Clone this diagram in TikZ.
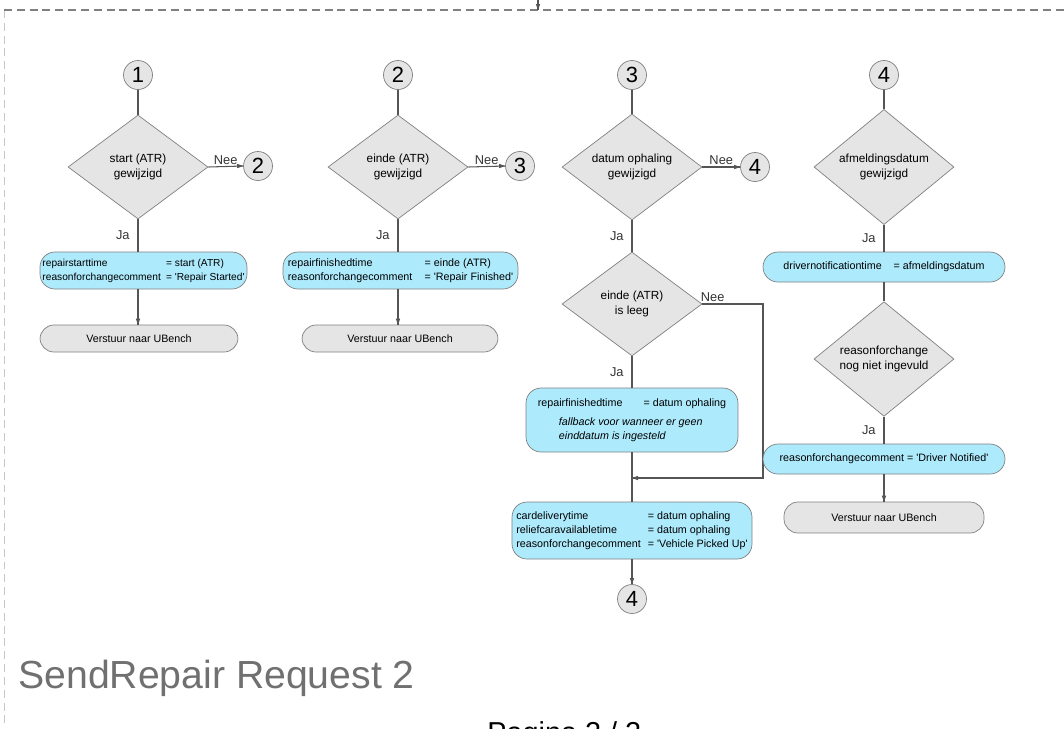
\documentclass[tikz,border=0pt]{standalone}
\usepackage{fontspec}
\setmainfont{Liberation Sans}
\usetikzlibrary{shapes.geometric}
\definecolor{boxblue}{RGB}{173,234,252}
\definecolor{boxgrey}{RGB}{229,229,229}
\definecolor{edgegrey}{RGB}{128,128,128}
\definecolor{linegrey}{RGB}{85,85,85}
\definecolor{titlegrey}{RGB}{112,112,112}
\newcommand{\sq}{\textquotesingle}
\begin{document}
\begin{tikzpicture}[x=0.02cm, y=0.02cm]
\tikzstyle{every node}+=[inner sep=0pt]
\tikzstyle{conn}=[draw=edgegrey, fill=boxgrey, circle, minimum size=0.58cm, font=\fontsize{12.5}{14}\selectfont]
\tikzstyle{dec}=[draw=edgegrey, fill=boxgrey, diamond, minimum width=2.8cm, minimum height=2.08cm, align=center, font=\fontsize{6.7}{8.3}\selectfont]
\tikzstyle{act}=[draw=edgegrey, fill=boxblue, rounded corners=0.3cm, font=\fontsize{6.1}{7.9}\selectfont]
\tikzstyle{send}=[draw=edgegrey, fill=boxgrey, rounded corners=0.28cm, font=\fontsize{6.1}{7.9}\selectfont]
\tikzstyle{lbl}=[font=\fontsize{7.3}{8}\selectfont, text=black!80]
\tikzstyle{flow}=[linegrey, line width=0.6pt]
\useasboundingbox (0,0) rectangle (1064,-728);
% frame of the page
\coordinate (fc) at (4,-10);
\coordinate (fl) at (4,-728);
\coordinate (fr) at (1064,-10);
\draw [black!22, dash pattern=on 4.5pt off 2.8pt] (fc) -- (fl);
\draw [black!50, line width=0.8pt, dash pattern=on 4.5pt off 2.8pt] (fc) -- (fr);
\coordinate (in0) at (538,0);
\coordinate (in1) at (538,-10);
\draw [flow] (in0) -- (in1);
\fill [linegrey] (in1) -- ++(-2.2,6) -- ++(4.4,0);
% 1
\node [conn] (c1) at (138,-75) {1};
\node [dec] (d1) at (138,-167) {start (ATR)\\gewijzigd};
\node [conn] (c1x) at (258,-166) {2};
\node [act, minimum width=4.14cm, minimum height=0.74cm, font=\fontsize{5.8}{7.9}\selectfont] (a1) at (143.5,-270.5) {\begin{tabular}{@{}l@{\hspace{3pt}}l@{}}repairstarttime & = start (ATR)\\reasonforchangecomment & = \sq Repair Started\sq\end{tabular}};
\node [send, minimum width=3.96cm, minimum height=0.54cm] (s1) at (139,-338.5) {Verstuur naar UBench};
\draw [flow] (c1) -- (d1);
\draw [flow] (d1.east) -- node [lbl, above=1pt] (n1) {Nee} (c1x.west);
\fill [linegrey] (c1x.west) -- ++(-6,2.2) -- ++(0,-4.4);
\draw [flow] (d1.south) -- node [lbl, left=4.5pt] (j1) {Ja} (d1.south |- a1.north);
\draw [flow] (d1.south |- a1.south) -- (d1.south |- s1.north);
\fill [linegrey] (d1.south |- s1.north) -- ++(-2.2,6) -- ++(4.4,0);
% 2
\node [conn] (c2) at (398,-75) {2};
\node [dec] (d2) at (398,-167) {einde (ATR)\\gewijzigd};
\node [conn] (c2x) at (520,-166) {3};
\node [act, minimum width=4.7cm, minimum height=0.74cm] (a2) at (400.5,-270.5) {\begin{tabular}{@{}l@{\hspace{7pt}}l@{}}repairfinishedtime & = einde (ATR)\\reasonforchangecomment & = \sq Repair Finished\sq\end{tabular}};
\node [send, minimum width=3.92cm, minimum height=0.54cm] (s2) at (400,-338.5) {Verstuur naar UBench};
\draw [flow] (c2) -- (d2);
\draw [flow] (d2.east) -- node [lbl, above=1pt] (n2) {Nee} (c2x.west);
\fill [linegrey] (c2x.west) -- ++(-6,2.2) -- ++(0,-4.4);
\draw [flow] (d2.south) -- node [lbl, left=4.5pt] (j2) {Ja} (d2.south |- a2.north);
\draw [flow] (d2.south |- a2.south) -- (d2.south |- s2.north);
\fill [linegrey] (d2.south |- s2.north) -- ++(-2.2,6) -- ++(4.4,0);
% 3
\node [conn] (c3) at (632,-75) {3};
\node [dec] (d3) at (632,-167) {datum ophaling\\gewijzigd};
\node [conn] (c3x) at (755,-167) {4};
\node [dec] (d3b) at (632,-304) {einde (ATR)\\is leeg};
\node [act, minimum width=4.24cm, minimum height=1.28cm] (a3) at (632,-420) {\begin{tabular}{@{}l@{\hspace{12pt}}l@{}}repairfinishedtime & = datum ophaling\\[3pt]
\multicolumn{2}{@{\hspace{12pt}}l@{}}{\itshape fallback voor wanneer er geen}\\
\multicolumn{2}{@{\hspace{12pt}}l@{}}{\itshape einddatum is ingesteld}\end{tabular}};
\coordinate (join) at (632,-478);
\coordinate (bend) at (763,-478);
\node [act, minimum width=4.8cm, minimum height=1.14cm] (a3b) at (632,-530.5) {\begin{tabular}{@{}l@{\hspace{4pt}}l@{}}cardeliverytime & = datum ophaling\\reliefcaravailabletime & = datum ophaling\\reasonforchangecomment & = \sq Vehicle Picked Up\sq\end{tabular}};
\node [conn] (c3e) at (632,-599) {4};
\draw [flow] (c3) -- (d3);
\draw [flow] (d3.east) -- node [lbl, above=1pt] (n3) {Nee} (c3x.west);
\fill [linegrey] (c3x.west) -- ++(-6,2.2) -- ++(0,-4.4);
\draw [flow] (d3.south) -- node [lbl, left=4.5pt] (j3) {Ja} (d3b.north);
\draw [flow] (d3b.south) -- node [lbl, left=4.5pt] (j3b) {Ja} (a3.north);
\draw [flow] (d3b.east) -| (bend) -- (join);
\node [lbl, anchor=south west] (n3b) at ([xshift=-1pt,yshift=1pt]d3b.east) {Nee};
\fill [linegrey] (join) -- ++(6,2.2) -- ++(0,-4.4);
\draw [flow] (a3.south) -- (a3b.north);
\draw [flow] (a3b.south) -- (c3e.north);
\fill [linegrey] (c3e.north) -- ++(-2.2,6) -- ++(4.4,0);
% 4
\node [conn] (c4) at (884,-75) {4};
\node [dec] (d4) at (884,-167) {afmeldingsdatum\\gewijzigd};
\node [act, minimum width=4.84cm, minimum height=0.6cm] (a4) at (884,-267) {drivernotificationtime\hspace{6.8pt}= afmeldingsdatum};
\node [dec] (d4b) at (884,-359) {reasonforchange\\nog niet ingevuld};
\node [act, minimum width=4.84cm, minimum height=0.6cm] (a4b) at (884,-459) {reasonforchangecomment = \sq Driver Notified\sq};
\node [send, minimum width=4cm, minimum height=0.62cm] (s4) at (884,-517.5) {Verstuur naar UBench};
\draw [flow] (c4) -- (d4);
\draw [flow] (d4.south) -- node [lbl, left=4.5pt] (j4) {Ja} (a4.north);
\draw [flow] (a4.south) -- (d4b.north);
\draw [flow] (d4b.south) -- node [lbl, left=4.5pt] (j4b) {Ja} (a4b.north);
\draw [flow] (a4b.south) -- (s4.north);
\fill [linegrey] (s4.north) -- ++(-2.2,6) -- ++(4.4,0);
% titles
\node [anchor=base west, text=titlegrey, font=\fontsize{22.3}{26}\selectfont] (title) at (18,-688) {SendRepair Request 2};
\node [anchor=base west, font=\fontsize{16.4}{20}\selectfont] (page) at (487,-742) {Pagina 2 / 2};
\end{tikzpicture}
\end{document}
